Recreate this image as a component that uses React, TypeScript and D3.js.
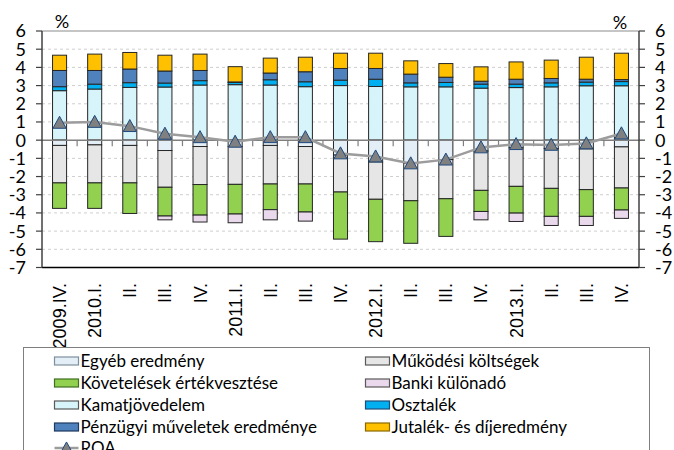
import React from "react";
import * as d3 from "d3";

const categories = ["2009.IV.", "2010.I.", "II.", "III.", "IV.", "2011.I.", "II. ", "III. ", "IV. ", "2012.I.", "II.  ", "III.  ", "IV.  ", "2013.I.", "II.   ", "III.   ", "IV.   "];

// positive components
const kamatjovedelem = [2.72, 2.81, 2.90, 2.92, 3.03, 3.05, 3.03, 2.94, 3.00, 2.95, 2.93, 2.93, 2.86, 2.89, 2.93, 2.99, 2.99];
const osztalek = [0.22, 0.27, 0.26, 0.22, 0.24, 0.12, 0.29, 0.27, 0.30, 0.40, 0.22, 0.24, 0.22, 0.19, 0.22, 0.20, 0.23];
const penzugyi = [0.89, 0.75, 0.75, 0.66, 0.56, 0.03, 0.37, 0.55, 0.64, 0.59, 0.48, 0.29, 0.16, 0.27, 0.24, 0.16, 0.11];
const jutalek = [0.84, 0.90, 0.91, 0.87, 0.90, 0.84, 0.82, 0.80, 0.84, 0.84, 0.73, 0.75, 0.79, 0.95, 1.01, 1.21, 1.45];

// negative components
const egyeb = [-0.29, -0.26, -0.29, -0.57, -0.35, -0.35, -0.29, -0.35, -0.82, -1.20, -1.27, -1.07, -0.60, -0.42, -0.46, -0.48, -0.37];
const mukodesi = [-2.06, -2.09, -2.06, -2.02, -2.09, -2.08, -2.12, -2.06, -2.03, -2.05, -2.06, -2.15, -2.16, -2.12, -2.19, -2.24, -2.26];
const kovetelesek = [-1.40, -1.40, -1.68, -1.58, -1.68, -1.63, -1.41, -1.54, -2.59, -2.33, -2.34, -2.07, -1.16, -1.47, -1.54, -1.47, -1.21];
const banki = [0, 0, 0, -0.21, -0.38, -0.48, -0.56, -0.50, 0, 0, 0, 0, -0.46, -0.46, -0.50, -0.50, -0.46];

const roa = [0.95, 1.0, 0.77, 0.35, 0.16, -0.09, 0.16, 0.16, -0.73, -0.90, -1.28, -1.07, -0.40, -0.22, -0.26, -0.18, 0.37];

const yTicks = [-7, -6, -5, -4, -3, -2, -1, 0, 1, 2, 3, 4, 5, 6];

const posSeries = [
  { name: "Kamatjövedelem", values: kamatjovedelem, fill: "#D7F4FB", stroke: "#262626" },
  { name: "Osztalék", values: osztalek, fill: "#00B0F0", stroke: "#262626" },
  { name: "Pénzügyi műveletek eredménye", values: penzugyi, fill: "#4F81BD", stroke: "#262626" },
  { name: "Jutalék- és díjeredmény", values: jutalek, fill: "#FFC000", stroke: "#262626" },
];
const negSeries = [
  { name: "Egyéb eredmény", values: egyeb, fill: "#E3EEF6", stroke: "#262626" },
  { name: "Működési költségek", values: mukodesi, fill: "#E6E6E6", stroke: "#262626" },
  { name: "Követelések értékvesztése", values: kovetelesek, fill: "#92D050", stroke: "#262626" },
  { name: "Banki különadó", values: banki, fill: "#EAD9EC", stroke: "#262626" },
];

const legendItems = [
  { name: "Egyéb eredmény", fill: "#E3EEF6", stroke: "#7f8f9f" },
  { name: "Működési költségek", fill: "#E6E6E6", stroke: "#595959" },
  { name: "Követelések értékvesztése", fill: "#92D050", stroke: "#3f6f1f" },
  { name: "Banki különadó", fill: "#EAD9EC", stroke: "#595959" },
  { name: "Kamatjövedelem", fill: "#D7F4FB", stroke: "#595959" },
  { name: "Osztalék", fill: "#00B0F0", stroke: "#1f4e79" },
  { name: "Pénzügyi műveletek eredménye", fill: "#4F81BD", stroke: "#1f3a5f" },
  { name: "Jutalék- és díjeredmény", fill: "#FFC000", stroke: "#8a6a00" },
];

const W = 674;
const H = 450;
const L = 42;
const R = 639;
const numFont = "Lato, 'Open Sans', sans-serif";

export default function App() {
  const x = d3.scaleBand<string>().domain(categories).range([L, R]).paddingInner(0.6).paddingOuter(0.3);
  const step = x.step();
  const y = d3.scaleLinear().domain([-7, 6]).range([267.5, 31]);
  const bw = x.bandwidth();

  const rects: JSX.Element[] = [];
  categories.forEach((c, i) => {
    let acc = 0;
    posSeries.forEach((s, k) => {
      const v = s.values[i];
      if (v > 0) {
        rects.push(
          <rect key={`p${k}-${i}`} x={x(c)!} y={y(acc + v)} width={bw} height={y(acc) - y(acc + v)} fill={s.fill} stroke={s.stroke} strokeWidth={1} />
        );
        acc += v;
      }
    });
    let nacc = 0;
    negSeries.forEach((s, k) => {
      const v = s.values[i];
      if (v < 0) {
        rects.push(
          <rect key={`n${k}-${i}`} x={x(c)!} y={y(nacc)} width={bw} height={y(nacc + v) - y(nacc)} fill={s.fill} stroke={s.stroke} strokeWidth={1} />
        );
        nacc += v;
      }
    });
  });

  const line = d3
    .line<number>()
    .x((_, i) => x(categories[i])! + bw / 2)
    .y((d) => y(d));

  const tri = (cx: number, cy: number, s: number) =>
    `M${cx},${cy - s * 0.55} L${cx + s * 0.55},${cy + s * 0.45} L${cx - s * 0.55},${cy + s * 0.45} Z`;

  const legendRowY = [361, 383, 405, 427];

  return (
    <svg width={W} height={H} style={{ position: "absolute", left: 0, top: 0, background: "#fff" }}>
      {/* gridlines */}
      {yTicks
        .filter((t) => t !== 0 && t !== -7 && t !== 6)
        .map((t) => (
          <line key={`g${t}`} x1={L} x2={R} y1={y(t)} y2={y(t)} stroke="#cfcfcf" strokeDasharray="3,3" strokeWidth={1} />
        ))}
      {/* top frame */}
      <line x1={L} x2={R} y1={y(6)} y2={y(6)} stroke="#8c8c8c" strokeWidth={1.2} />
      {/* bars */}
      {rects}
      {/* zero line and category ticks */}
      <line x1={L} x2={R} y1={y(0)} y2={y(0)} stroke="#7f7f7f" strokeWidth={1.5} />
      {categories.slice(1).map((c, i) => (
        <line key={`ct${i}`} x1={L + step * (i + 1)} x2={L + step * (i + 1)} y1={y(0)} y2={y(0) + 6} stroke="#7f7f7f" strokeWidth={1.2} />
      ))}
      {/* bottom line */}
      <line x1={L} x2={R} y1={y(-7)} y2={y(-7)} stroke="#000" strokeWidth={1.5} />
      {/* left axis */}
      <line x1={L} x2={L} y1={y(6)} y2={y(-7)} stroke="#404040" strokeWidth={1.5} />
      {yTicks.map((t) => (
        <g key={`l${t}`}>
          <line x1={L - 6} x2={L} y1={y(t)} y2={y(t)} stroke="#404040" strokeWidth={1.2} />
          <text x={26} y={y(t)} dy="0.36em" textAnchor="end" fontFamily={numFont} fontSize={18} fill="#000">
            {t}
          </text>
        </g>
      ))}
      {/* right axis */}
      <line x1={R} x2={R} y1={y(6)} y2={y(-7)} stroke="#404040" strokeWidth={1.5} />
      {yTicks.map((t) => (
        <g key={`r${t}`}>
          <line x1={R} x2={R + 6} y1={y(t)} y2={y(t)} stroke="#404040" strokeWidth={1.2} />
          <text x={655} y={y(t)} dy="0.36em" textAnchor="start" fontFamily={numFont} fontSize={18} fill="#000">
            {t}
          </text>
        </g>
      ))}
      <text x={62} y={28} textAnchor="middle" fontFamily={numFont} fontSize={18} fill="#000">%</text>
      <text x={620} y={29} textAnchor="middle" fontFamily={numFont} fontSize={18} fill="#000">%</text>
      {/* ROA line */}
      <path d={line(roa) || ""} fill="none" stroke="#9c9c9c" strokeWidth={2.5} />
      {roa.map((v, i) => (
        <path key={`m${i}`} d={tri(x(categories[i])! + bw / 2, y(v), 12)} fill="#808080" stroke="#1F497D" strokeWidth={1} />
      ))}
      {/* x labels */}
      {categories.map((c) => (
        <text
          key={`x${c}`}
          transform={`translate(${x(c)! + bw / 2},283) rotate(-90)`}
          dy="0.36em"
          textAnchor="end"
          fontFamily="'Liberation Sans', Arial, sans-serif"
          fontSize={18}
          fill="#000"
        >
          {c.trim()}
        </text>
      ))}
      {/* legend */}
      <rect x={23.5} y={347.5} width={626} height={130} fill="#fff" stroke="#7f7f7f" strokeWidth={1} />
      {legendItems.map((it, i) => {
        const col = i % 2;
        const row = Math.floor(i / 2);
        const sx = col === 0 ? 54.5 : 365.5;
        const cy = legendRowY[row];
        return (
          <g key={`lg${i}`}>
            <rect x={sx} y={cy - 4} width={24} height={8} fill={it.fill} stroke={it.stroke} strokeWidth={1.2} />
            <text x={sx + 26} y={cy} dy="0.35em" fontFamily={numFont} fontSize={17} fill="#000">
              {it.name}
            </text>
          </g>
        );
      })}
      <g>
        <line x1={54.5} x2={78.5} y1={448} y2={448} stroke="#9c9c9c" strokeWidth={2.5} />
        <path d={tri(66.5, 448, 11)} fill="#808080" stroke="#1F497D" strokeWidth={1} />
        <text x={80.5} y={448} dy="0.35em" fontFamily={numFont} fontSize={17} fill="#000">ROA</text>
      </g>
    </svg>
  );
}
